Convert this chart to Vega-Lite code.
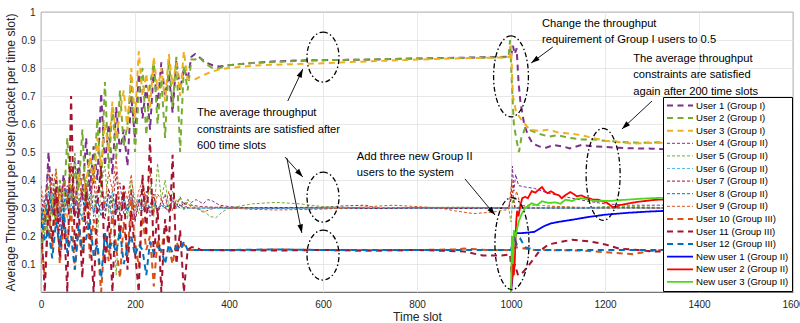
{
"$schema":"https://vega.github.io/schema/vega-lite/v6.json",
"autosize":{"type":"none"},
"padding":{"left":41,"top":12,"right":7,"bottom":31},
"width":752,"height":280,
"background":"white",
"config":{
 "view":{"stroke":"#262626","strokeWidth":0.8},
 "axis":{"labelFont":"Liberation Sans","labelFontSize":10,"labelColor":"#262626","titleFont":"Liberation Sans","titleFontSize":12.2,"titleFontWeight":"normal","titleColor":"#262626","gridColor":"#e2e2e2","gridWidth":0.8,"domain":false,"ticks":false,"labelOverlap":false},
 "legend":{"symbolType":"stroke","symbolSize":676,"labelFont":"Liberation Sans","labelFontSize":9.6,"labelColor":"#000","fillColor":"#ffffff","strokeColor":"#000","padding":3,"rowPadding":1.6,"clipHeight":11,"labelOffset":2,"symbolOffset":0,"labelLimit":250}
},
"datasets":{
 "names":[{"k":1,"name":"User 1 (Group I)"},{"k":2,"name":"User 2 (Group I)"},{"k":3,"name":"User 3 (Group I)"},{"k":4,"name":"User 4 (Group II)"},{"k":5,"name":"User 5 (Group II)"},{"k":6,"name":"User 6 (Group II)"},{"k":7,"name":"User 7 (Group II)"},{"k":8,"name":"User 8 (Group II)"},{"k":9,"name":"User 9 (Group II)"},{"k":10,"name":"User 10 (Group III)"},{"k":11,"name":"User 11 (Group III)"},{"k":12,"name":"User 12 (Group III)"},{"k":13,"name":"New user 1 (Group II)"},{"k":14,"name":"New user 2 (Group II)"},{"k":15,"name":"New user 3 (Group II)"}]
},
"data":{"values":[
{"k":1,"t":0,"v":0.30},{"k":1,"t":8,"v":0.22},{"k":1,"t":16,"v":0.50},{"k":1,"t":24,"v":0.28},{"k":1,"t":32,"v":0.35},{"k":1,"t":40,"v":0.25},{"k":1,"t":48,"v":0.42},{"k":1,"t":56,"v":0.30},{"k":1,"t":64,"v":0.38},{"k":1,"t":72,"v":0.27},{"k":1,"t":80,"v":0.47},{"k":1,"t":88,"v":0.33},{"k":1,"t":96,"v":0.55},{"k":1,"t":104,"v":0.36},{"k":1,"t":112,"v":0.52},{"k":1,"t":120,"v":0.40},{"k":1,"t":128,"v":0.71},{"k":1,"t":136,"v":0.45},{"k":1,"t":144,"v":0.60},{"k":1,"t":152,"v":0.42},{"k":1,"t":160,"v":0.66},{"k":1,"t":168,"v":0.50},{"k":1,"t":176,"v":0.58},{"k":1,"t":184,"v":0.45},{"k":1,"t":192,"v":0.70},{"k":1,"t":200,"v":0.55},{"k":1,"t":208,"v":0.78},{"k":1,"t":216,"v":0.62},{"k":1,"t":224,"v":0.74},{"k":1,"t":232,"v":0.58},{"k":1,"t":240,"v":0.80},{"k":1,"t":248,"v":0.66},{"k":1,"t":256,"v":0.82},{"k":1,"t":264,"v":0.70},{"k":1,"t":272,"v":0.78},{"k":1,"t":280,"v":0.64},{"k":1,"t":288,"v":0.83},{"k":1,"t":296,"v":0.72},{"k":1,"t":304,"v":0.80},{"k":1,"t":312,"v":0.76},{"k":1,"t":320,"v":0.84},
{"k":1,"t":328,"v":0.85},{"k":1,"t":336,"v":0.84},{"k":1,"t":350,"v":0.82},{"k":1,"t":365,"v":0.81},{"k":1,"t":380,"v":0.805},{"k":1,"t":400,"v":0.81},{"k":1,"t":450,"v":0.818},{"k":1,"t":500,"v":0.824},{"k":1,"t":550,"v":0.827},{"k":1,"t":600,"v":0.828},{"k":1,"t":700,"v":0.83},{"k":1,"t":800,"v":0.834},{"k":1,"t":900,"v":0.837},{"k":1,"t":990,"v":0.84},{"k":1,"t":1000,"v":0.84},{"k":1,"t":1004,"v":0.88},{"k":1,"t":1008,"v":0.85},{"k":1,"t":1012,"v":0.87},{"k":1,"t":1016,"v":0.75},{"k":1,"t":1020,"v":0.68},{"k":1,"t":1028,"v":0.60},{"k":1,"t":1036,"v":0.56},{"k":1,"t":1046,"v":0.53},{"k":1,"t":1060,"v":0.52},{"k":1,"t":1075,"v":0.515},{"k":1,"t":1090,"v":0.525},{"k":1,"t":1110,"v":0.52},{"k":1,"t":1125,"v":0.513},{"k":1,"t":1150,"v":0.525},{"k":1,"t":1175,"v":0.52},{"k":1,"t":1200,"v":0.518},{"k":1,"t":1230,"v":0.515},{"k":1,"t":1260,"v":0.513},{"k":1,"t":1300,"v":0.512},{"k":1,"t":1330,"v":0.51},
{"k":2,"t":0,"v":0.10},{"k":2,"t":8,"v":0.28},{"k":2,"t":16,"v":0.20},{"k":2,"t":24,"v":0.35},{"k":2,"t":32,"v":0.24},{"k":2,"t":40,"v":0.40},{"k":2,"t":48,"v":0.30},{"k":2,"t":56,"v":0.55},{"k":2,"t":64,"v":0.32},{"k":2,"t":72,"v":0.45},{"k":2,"t":80,"v":0.36},{"k":2,"t":88,"v":0.58},{"k":2,"t":96,"v":0.30},{"k":2,"t":104,"v":0.50},{"k":2,"t":112,"v":0.40},{"k":2,"t":120,"v":0.62},{"k":2,"t":128,"v":0.38},{"k":2,"t":136,"v":0.75},{"k":2,"t":144,"v":0.44},{"k":2,"t":152,"v":0.66},{"k":2,"t":160,"v":0.48},{"k":2,"t":168,"v":0.72},{"k":2,"t":176,"v":0.52},{"k":2,"t":184,"v":0.60},{"k":2,"t":192,"v":0.76},{"k":2,"t":200,"v":0.50},{"k":2,"t":208,"v":0.70},{"k":2,"t":216,"v":0.80},{"k":2,"t":224,"v":0.56},{"k":2,"t":232,"v":0.74},{"k":2,"t":240,"v":0.82},{"k":2,"t":248,"v":0.60},{"k":2,"t":256,"v":0.76},{"k":2,"t":264,"v":0.55},{"k":2,"t":272,"v":0.83},{"k":2,"t":280,"v":0.66},{"k":2,"t":288,"v":0.84},{"k":2,"t":296,"v":0.50},{"k":2,"t":304,"v":0.81},{"k":2,"t":312,"v":0.72},{"k":2,"t":320,"v":0.83},
{"k":2,"t":328,"v":0.83},{"k":2,"t":336,"v":0.84},{"k":2,"t":350,"v":0.815},{"k":2,"t":365,"v":0.80},{"k":2,"t":380,"v":0.80},{"k":2,"t":400,"v":0.81},{"k":2,"t":450,"v":0.818},{"k":2,"t":500,"v":0.822},{"k":2,"t":600,"v":0.828},{"k":2,"t":700,"v":0.83},{"k":2,"t":800,"v":0.834},{"k":2,"t":900,"v":0.836},{"k":2,"t":985,"v":0.838},{"k":2,"t":995,"v":0.84},{"k":2,"t":998,"v":0.90},{"k":2,"t":1002,"v":0.74},{"k":2,"t":1006,"v":0.60},{"k":2,"t":1012,"v":0.54},{"k":2,"t":1017,"v":0.50},{"k":2,"t":1022,"v":0.55},{"k":2,"t":1030,"v":0.585},{"k":2,"t":1045,"v":0.575},{"k":2,"t":1060,"v":0.565},{"k":2,"t":1080,"v":0.555},{"k":2,"t":1100,"v":0.56},{"k":2,"t":1125,"v":0.55},{"k":2,"t":1150,"v":0.545},{"k":2,"t":1175,"v":0.545},{"k":2,"t":1200,"v":0.54},{"k":2,"t":1240,"v":0.535},{"k":2,"t":1280,"v":0.533},{"k":2,"t":1330,"v":0.535},
{"k":3,"t":0,"v":0.20},{"k":3,"t":8,"v":0.30},{"k":3,"t":16,"v":0.25},{"k":3,"t":24,"v":0.33},{"k":3,"t":32,"v":0.28},{"k":3,"t":40,"v":0.36},{"k":3,"t":48,"v":0.30},{"k":3,"t":56,"v":0.27},{"k":3,"t":64,"v":0.38},{"k":3,"t":72,"v":0.32},{"k":3,"t":80,"v":0.42},{"k":3,"t":88,"v":0.35},{"k":3,"t":96,"v":0.40},{"k":3,"t":104,"v":0.48},{"k":3,"t":112,"v":0.38},{"k":3,"t":120,"v":0.55},{"k":3,"t":128,"v":0.45},{"k":3,"t":136,"v":0.60},{"k":3,"t":144,"v":0.50},{"k":3,"t":152,"v":0.68},{"k":3,"t":160,"v":0.55},{"k":3,"t":168,"v":0.64},{"k":3,"t":176,"v":0.72},{"k":3,"t":184,"v":0.58},{"k":3,"t":192,"v":0.80},{"k":3,"t":200,"v":0.62},{"k":3,"t":208,"v":0.86},{"k":3,"t":216,"v":0.70},{"k":3,"t":224,"v":0.78},{"k":3,"t":232,"v":0.66},{"k":3,"t":240,"v":0.84},{"k":3,"t":248,"v":0.72},{"k":3,"t":256,"v":0.80},{"k":3,"t":264,"v":0.68},{"k":3,"t":272,"v":0.85},{"k":3,"t":280,"v":0.74},{"k":3,"t":288,"v":0.82},{"k":3,"t":296,"v":0.70},{"k":3,"t":304,"v":0.86},{"k":3,"t":312,"v":0.76},{"k":3,"t":320,"v":0.76},
{"k":3,"t":328,"v":0.76},{"k":3,"t":340,"v":0.77},{"k":3,"t":360,"v":0.785},{"k":3,"t":380,"v":0.795},{"k":3,"t":400,"v":0.80},{"k":3,"t":450,"v":0.808},{"k":3,"t":500,"v":0.812},{"k":3,"t":600,"v":0.817},{"k":3,"t":700,"v":0.824},{"k":3,"t":800,"v":0.83},{"k":3,"t":900,"v":0.835},{"k":3,"t":990,"v":0.838},{"k":3,"t":997,"v":0.84},{"k":3,"t":1000,"v":0.88},{"k":3,"t":1004,"v":0.70},{"k":3,"t":1010,"v":0.65},{"k":3,"t":1016,"v":0.63},{"k":3,"t":1024,"v":0.61},{"k":3,"t":1040,"v":0.58},{"k":3,"t":1060,"v":0.575},{"k":3,"t":1080,"v":0.58},{"k":3,"t":1100,"v":0.57},{"k":3,"t":1130,"v":0.565},{"k":3,"t":1150,"v":0.56},{"k":3,"t":1175,"v":0.55},{"k":3,"t":1200,"v":0.54},{"k":3,"t":1230,"v":0.535},{"k":3,"t":1260,"v":0.53},{"k":3,"t":1290,"v":0.532},{"k":3,"t":1330,"v":0.533},
{"k":4,"t":0,"v":0.25},{"k":4,"t":8,"v":0.33},{"k":4,"t":16,"v":0.45},{"k":4,"t":24,"v":0.28},{"k":4,"t":32,"v":0.36},{"k":4,"t":40,"v":0.22},{"k":4,"t":48,"v":0.40},{"k":4,"t":56,"v":0.30},{"k":4,"t":64,"v":0.34},{"k":4,"t":72,"v":0.48},{"k":4,"t":80,"v":0.26},{"k":4,"t":88,"v":0.38},{"k":4,"t":96,"v":0.31},{"k":4,"t":104,"v":0.44},{"k":4,"t":112,"v":0.27},{"k":4,"t":120,"v":0.36},{"k":4,"t":128,"v":0.42},{"k":4,"t":136,"v":0.29},{"k":4,"t":144,"v":0.35},{"k":4,"t":152,"v":0.24},{"k":4,"t":160,"v":0.33},{"k":4,"t":168,"v":0.39},{"k":4,"t":176,"v":0.28},{"k":4,"t":184,"v":0.31},{"k":4,"t":192,"v":0.37},{"k":4,"t":200,"v":0.26},{"k":4,"t":208,"v":0.33},{"k":4,"t":216,"v":0.30},{"k":4,"t":224,"v":0.36},{"k":4,"t":232,"v":0.27},{"k":4,"t":240,"v":0.34},{"k":4,"t":248,"v":0.29},{"k":4,"t":256,"v":0.31},{"k":4,"t":264,"v":0.35},{"k":4,"t":272,"v":0.28},{"k":4,"t":280,"v":0.33},{"k":4,"t":288,"v":0.30},{"k":4,"t":296,"v":0.34},{"k":4,"t":304,"v":0.31},{"k":4,"t":312,"v":0.33},{"k":4,"t":320,"v":0.32},
{"k":4,"t":330,"v":0.33},{"k":4,"t":345,"v":0.315},{"k":4,"t":355,"v":0.33},{"k":4,"t":365,"v":0.325},{"k":4,"t":380,"v":0.31},{"k":4,"t":400,"v":0.305},{"k":4,"t":450,"v":0.30},{"k":4,"t":500,"v":0.298},{"k":4,"t":550,"v":0.302},{"k":4,"t":600,"v":0.303},{"k":4,"t":650,"v":0.308},{"k":4,"t":690,"v":0.31},{"k":4,"t":720,"v":0.298},{"k":4,"t":800,"v":0.30},{"k":4,"t":900,"v":0.302},{"k":4,"t":995,"v":0.30},{"k":4,"t":1000,"v":0.33},{"k":4,"t":1003,"v":0.45},{"k":4,"t":1006,"v":0.36},{"k":4,"t":1010,"v":0.42},{"k":4,"t":1016,"v":0.38},{"k":4,"t":1030,"v":0.375},{"k":4,"t":1050,"v":0.37},{"k":4,"t":1075,"v":0.355},{"k":4,"t":1100,"v":0.345},{"k":4,"t":1130,"v":0.335},{"k":4,"t":1160,"v":0.325},{"k":4,"t":1200,"v":0.315},{"k":4,"t":1250,"v":0.31},{"k":4,"t":1300,"v":0.31},{"k":4,"t":1330,"v":0.31},
{"k":5,"t":0,"v":0.32},{"k":5,"t":8,"v":0.20},{"k":5,"t":16,"v":0.38},{"k":5,"t":24,"v":0.27},{"k":5,"t":32,"v":0.44},{"k":5,"t":40,"v":0.30},{"k":5,"t":48,"v":0.22},{"k":5,"t":56,"v":0.36},{"k":5,"t":64,"v":0.28},{"k":5,"t":72,"v":0.50},{"k":5,"t":80,"v":0.32},{"k":5,"t":88,"v":0.25},{"k":5,"t":96,"v":0.40},{"k":5,"t":104,"v":0.30},{"k":5,"t":112,"v":0.35},{"k":5,"t":120,"v":0.20},{"k":5,"t":128,"v":0.38},{"k":5,"t":136,"v":0.45},{"k":5,"t":144,"v":0.28},{"k":5,"t":152,"v":0.34},{"k":5,"t":160,"v":0.06},{"k":5,"t":168,"v":0.30},{"k":5,"t":176,"v":0.36},{"k":5,"t":184,"v":0.26},{"k":5,"t":192,"v":0.40},{"k":5,"t":200,"v":0.33},{"k":5,"t":208,"v":0.28},{"k":5,"t":216,"v":0.35},{"k":5,"t":224,"v":0.30},{"k":5,"t":232,"v":0.38},{"k":5,"t":240,"v":0.27},{"k":5,"t":248,"v":0.46},{"k":5,"t":256,"v":0.33},{"k":5,"t":264,"v":0.40},{"k":5,"t":272,"v":0.30},{"k":5,"t":280,"v":0.36},{"k":5,"t":288,"v":0.31},{"k":5,"t":296,"v":0.34},{"k":5,"t":304,"v":0.29},{"k":5,"t":312,"v":0.33},{"k":5,"t":320,"v":0.31},
{"k":5,"t":330,"v":0.30},{"k":5,"t":345,"v":0.29},{"k":5,"t":360,"v":0.27},{"k":5,"t":372,"v":0.265},{"k":5,"t":385,"v":0.285},{"k":5,"t":400,"v":0.30},{"k":5,"t":450,"v":0.315},{"k":5,"t":500,"v":0.32},{"k":5,"t":550,"v":0.315},{"k":5,"t":600,"v":0.305},{"k":5,"t":700,"v":0.30},{"k":5,"t":800,"v":0.302},{"k":5,"t":900,"v":0.303},{"k":5,"t":995,"v":0.30},{"k":5,"t":1000,"v":0.25},{"k":5,"t":1004,"v":0.34},{"k":5,"t":1010,"v":0.30},{"k":5,"t":1030,"v":0.31},{"k":5,"t":1060,"v":0.31},{"k":5,"t":1100,"v":0.305},{"k":5,"t":1150,"v":0.30},{"k":5,"t":1200,"v":0.305},{"k":5,"t":1260,"v":0.305},{"k":5,"t":1330,"v":0.31},
{"k":6,"t":0,"v":0.28},{"k":6,"t":8,"v":0.32},{"k":6,"t":16,"v":0.25},{"k":6,"t":24,"v":0.35},{"k":6,"t":32,"v":0.30},{"k":6,"t":40,"v":0.27},{"k":6,"t":48,"v":0.34},{"k":6,"t":56,"v":0.29},{"k":6,"t":64,"v":0.36},{"k":6,"t":72,"v":0.31},{"k":6,"t":80,"v":0.26},{"k":6,"t":88,"v":0.33},{"k":6,"t":96,"v":0.30},{"k":6,"t":104,"v":0.35},{"k":6,"t":112,"v":0.28},{"k":6,"t":120,"v":0.32},{"k":6,"t":128,"v":0.29},{"k":6,"t":136,"v":0.34},{"k":6,"t":144,"v":0.31},{"k":6,"t":152,"v":0.27},{"k":6,"t":160,"v":0.33},{"k":6,"t":168,"v":0.30},{"k":6,"t":176,"v":0.32},{"k":6,"t":184,"v":0.28},{"k":6,"t":192,"v":0.34},{"k":6,"t":200,"v":0.30},{"k":6,"t":208,"v":0.31},{"k":6,"t":216,"v":0.29},{"k":6,"t":224,"v":0.33},{"k":6,"t":232,"v":0.30},{"k":6,"t":240,"v":0.32},{"k":6,"t":248,"v":0.29},{"k":6,"t":256,"v":0.31},{"k":6,"t":264,"v":0.30},{"k":6,"t":272,"v":0.32},{"k":6,"t":280,"v":0.30},{"k":6,"t":288,"v":0.31},{"k":6,"t":296,"v":0.30},{"k":6,"t":304,"v":0.31},{"k":6,"t":312,"v":0.30},{"k":6,"t":320,"v":0.30},
{"k":6,"t":360,"v":0.30},{"k":6,"t":450,"v":0.30},{"k":6,"t":600,"v":0.30},{"k":6,"t":800,"v":0.30},{"k":6,"t":1000,"v":0.30},{"k":6,"t":1150,"v":0.30},{"k":6,"t":1330,"v":0.30},
{"k":7,"t":0,"v":0.35},{"k":7,"t":8,"v":0.26},{"k":7,"t":16,"v":0.30},{"k":7,"t":24,"v":0.42},{"k":7,"t":32,"v":0.24},{"k":7,"t":40,"v":0.38},{"k":7,"t":48,"v":0.29},{"k":7,"t":56,"v":0.33},{"k":7,"t":64,"v":0.45},{"k":7,"t":72,"v":0.27},{"k":7,"t":80,"v":0.31},{"k":7,"t":88,"v":0.36},{"k":7,"t":96,"v":0.22},{"k":7,"t":104,"v":0.34},{"k":7,"t":112,"v":0.40},{"k":7,"t":120,"v":0.28},{"k":7,"t":128,"v":0.32},{"k":7,"t":136,"v":0.26},{"k":7,"t":144,"v":0.37},{"k":7,"t":152,"v":0.30},{"k":7,"t":160,"v":0.43},{"k":7,"t":168,"v":0.27},{"k":7,"t":176,"v":0.33},{"k":7,"t":184,"v":0.29},{"k":7,"t":192,"v":0.36},{"k":7,"t":200,"v":0.25},{"k":7,"t":208,"v":0.32},{"k":7,"t":216,"v":0.38},{"k":7,"t":224,"v":0.28},{"k":7,"t":232,"v":0.31},{"k":7,"t":240,"v":0.35},{"k":7,"t":248,"v":0.27},{"k":7,"t":256,"v":0.33},{"k":7,"t":264,"v":0.30},{"k":7,"t":272,"v":0.29},{"k":7,"t":280,"v":0.34},{"k":7,"t":288,"v":0.31},{"k":7,"t":296,"v":0.30},{"k":7,"t":304,"v":0.32},{"k":7,"t":312,"v":0.30},{"k":7,"t":320,"v":0.31},
{"k":7,"t":340,"v":0.305},{"k":7,"t":400,"v":0.30},{"k":7,"t":500,"v":0.302},{"k":7,"t":600,"v":0.30},{"k":7,"t":700,"v":0.298},{"k":7,"t":800,"v":0.30},{"k":7,"t":900,"v":0.298},{"k":7,"t":995,"v":0.30},{"k":7,"t":1003,"v":0.36},{"k":7,"t":1008,"v":0.30},{"k":7,"t":1050,"v":0.30},{"k":7,"t":1150,"v":0.30},{"k":7,"t":1250,"v":0.302},{"k":7,"t":1330,"v":0.30},
{"k":8,"t":0,"v":0.30},{"k":8,"t":8,"v":0.24},{"k":8,"t":16,"v":0.36},{"k":8,"t":24,"v":0.29},{"k":8,"t":32,"v":0.33},{"k":8,"t":40,"v":0.27},{"k":8,"t":48,"v":0.31},{"k":8,"t":56,"v":0.38},{"k":8,"t":64,"v":0.28},{"k":8,"t":72,"v":0.34},{"k":8,"t":80,"v":0.30},{"k":8,"t":88,"v":0.26},{"k":8,"t":96,"v":0.35},{"k":8,"t":104,"v":0.31},{"k":8,"t":112,"v":0.29},{"k":8,"t":120,"v":0.33},{"k":8,"t":128,"v":0.27},{"k":8,"t":136,"v":0.32},{"k":8,"t":144,"v":0.30},{"k":8,"t":152,"v":0.36},{"k":8,"t":160,"v":0.28},{"k":8,"t":168,"v":0.31},{"k":8,"t":176,"v":0.34},{"k":8,"t":184,"v":0.29},{"k":8,"t":192,"v":0.32},{"k":8,"t":200,"v":0.30},{"k":8,"t":208,"v":0.33},{"k":8,"t":216,"v":0.29},{"k":8,"t":224,"v":0.31},{"k":8,"t":232,"v":0.30},{"k":8,"t":240,"v":0.32},{"k":8,"t":248,"v":0.30},{"k":8,"t":256,"v":0.31},{"k":8,"t":264,"v":0.30},{"k":8,"t":272,"v":0.31},{"k":8,"t":280,"v":0.30},{"k":8,"t":288,"v":0.30},{"k":8,"t":296,"v":0.31},{"k":8,"t":304,"v":0.30},{"k":8,"t":312,"v":0.30},{"k":8,"t":320,"v":0.30},
{"k":8,"t":400,"v":0.30},{"k":8,"t":600,"v":0.30},{"k":8,"t":800,"v":0.30},{"k":8,"t":1000,"v":0.30},{"k":8,"t":1200,"v":0.30},{"k":8,"t":1330,"v":0.30},
{"k":9,"t":0,"v":0.38},{"k":9,"t":8,"v":0.30},{"k":9,"t":16,"v":0.42},{"k":9,"t":24,"v":0.35},{"k":9,"t":32,"v":0.44},{"k":9,"t":40,"v":0.28},{"k":9,"t":48,"v":0.40},{"k":9,"t":56,"v":0.33},{"k":9,"t":64,"v":0.46},{"k":9,"t":72,"v":0.36},{"k":9,"t":80,"v":0.30},{"k":9,"t":88,"v":0.42},{"k":9,"t":96,"v":0.38},{"k":9,"t":104,"v":0.27},{"k":9,"t":112,"v":0.45},{"k":9,"t":120,"v":0.34},{"k":9,"t":128,"v":0.40},{"k":9,"t":136,"v":0.31},{"k":9,"t":144,"v":0.43},{"k":9,"t":152,"v":0.36},{"k":9,"t":160,"v":0.48},{"k":9,"t":168,"v":0.30},{"k":9,"t":176,"v":0.38},{"k":9,"t":184,"v":0.33},{"k":9,"t":192,"v":0.42},{"k":9,"t":200,"v":0.29},{"k":9,"t":208,"v":0.36},{"k":9,"t":216,"v":0.40},{"k":9,"t":224,"v":0.31},{"k":9,"t":232,"v":0.44},{"k":9,"t":240,"v":0.28},{"k":9,"t":248,"v":0.35},{"k":9,"t":256,"v":0.33},{"k":9,"t":264,"v":0.30},{"k":9,"t":272,"v":0.36},{"k":9,"t":280,"v":0.29},{"k":9,"t":288,"v":0.33},{"k":9,"t":296,"v":0.31},{"k":9,"t":304,"v":0.30},{"k":9,"t":312,"v":0.32},{"k":9,"t":320,"v":0.30},
{"k":9,"t":330,"v":0.30},{"k":9,"t":345,"v":0.285},{"k":9,"t":360,"v":0.295},{"k":9,"t":380,"v":0.305},{"k":9,"t":400,"v":0.30},{"k":9,"t":450,"v":0.295},{"k":9,"t":500,"v":0.293},{"k":9,"t":600,"v":0.296},{"k":9,"t":650,"v":0.30},{"k":9,"t":700,"v":0.305},{"k":9,"t":750,"v":0.31},{"k":9,"t":800,"v":0.305},{"k":9,"t":850,"v":0.30},{"k":9,"t":880,"v":0.29},{"k":9,"t":920,"v":0.28},{"k":9,"t":960,"v":0.285},{"k":9,"t":995,"v":0.295},{"k":9,"t":1002,"v":0.40},{"k":9,"t":1006,"v":0.32},{"k":9,"t":1012,"v":0.36},{"k":9,"t":1020,"v":0.31},{"k":9,"t":1050,"v":0.30},{"k":9,"t":1100,"v":0.305},{"k":9,"t":1200,"v":0.30},{"k":9,"t":1330,"v":0.30},
{"k":10,"t":0,"v":0.20},{"k":10,"t":8,"v":0.05},{"k":10,"t":16,"v":0.28},{"k":10,"t":24,"v":0.15},{"k":10,"t":32,"v":0.35},{"k":10,"t":40,"v":0.10},{"k":10,"t":48,"v":0.24},{"k":10,"t":56,"v":0.18},{"k":10,"t":64,"v":0.30},{"k":10,"t":72,"v":0.08},{"k":10,"t":80,"v":0.22},{"k":10,"t":88,"v":0.14},{"k":10,"t":96,"v":0.38},{"k":10,"t":104,"v":0.12},{"k":10,"t":112,"v":0.26},{"k":10,"t":120,"v":0.17},{"k":10,"t":128,"v":0.00},{"k":10,"t":136,"v":0.21},{"k":10,"t":144,"v":0.11},{"k":10,"t":152,"v":0.29},{"k":10,"t":160,"v":0.16},{"k":10,"t":168,"v":0.05},{"k":10,"t":176,"v":0.25},{"k":10,"t":184,"v":0.13},{"k":10,"t":192,"v":0.33},{"k":10,"t":200,"v":0.18},{"k":10,"t":208,"v":0.09},{"k":10,"t":216,"v":0.27},{"k":10,"t":224,"v":0.15},{"k":10,"t":232,"v":0.20},{"k":10,"t":240,"v":0.02},{"k":10,"t":248,"v":0.19},{"k":10,"t":256,"v":0.14},{"k":10,"t":264,"v":0.24},{"k":10,"t":272,"v":0.16},{"k":10,"t":280,"v":0.10},{"k":10,"t":288,"v":0.18},{"k":10,"t":296,"v":0.15},{"k":10,"t":304,"v":0.17},{"k":10,"t":312,"v":0.15},{"k":10,"t":320,"v":0.15},
{"k":10,"t":340,"v":0.15},{"k":10,"t":400,"v":0.148},{"k":10,"t":500,"v":0.152},{"k":10,"t":600,"v":0.15},{"k":10,"t":700,"v":0.148},{"k":10,"t":800,"v":0.15},{"k":10,"t":880,"v":0.152},{"k":10,"t":900,"v":0.155},{"k":10,"t":950,"v":0.15},{"k":10,"t":1000,"v":0.15},{"k":10,"t":1010,"v":0.16},{"k":10,"t":1050,"v":0.15},{"k":10,"t":1150,"v":0.148},{"k":10,"t":1220,"v":0.14},{"k":10,"t":1260,"v":0.135},{"k":10,"t":1290,"v":0.145},{"k":10,"t":1330,"v":0.152},
{"k":11,"t":0,"v":0.25},{"k":11,"t":8,"v":0.00},{"k":11,"t":16,"v":0.33},{"k":11,"t":24,"v":0.18},{"k":11,"t":32,"v":0.40},{"k":11,"t":40,"v":0.12},{"k":11,"t":48,"v":0.28},{"k":11,"t":56,"v":0.00},{"k":11,"t":64,"v":0.70},{"k":11,"t":72,"v":0.15},{"k":11,"t":80,"v":0.30},{"k":11,"t":88,"v":0.05},{"k":11,"t":96,"v":0.36},{"k":11,"t":104,"v":0.22},{"k":11,"t":112,"v":0.00},{"k":11,"t":120,"v":0.31},{"k":11,"t":128,"v":0.45},{"k":11,"t":136,"v":0.10},{"k":11,"t":144,"v":0.27},{"k":11,"t":152,"v":0.00},{"k":11,"t":160,"v":0.35},{"k":11,"t":168,"v":0.19},{"k":11,"t":176,"v":0.38},{"k":11,"t":184,"v":0.08},{"k":11,"t":192,"v":0.29},{"k":11,"t":200,"v":0.14},{"k":11,"t":208,"v":0.00},{"k":11,"t":216,"v":0.42},{"k":11,"t":224,"v":0.20},{"k":11,"t":232,"v":0.55},{"k":11,"t":240,"v":0.12},{"k":11,"t":248,"v":0.30},{"k":11,"t":256,"v":0.00},{"k":11,"t":264,"v":0.26},{"k":11,"t":272,"v":0.17},{"k":11,"t":280,"v":0.49},{"k":11,"t":288,"v":0.10},{"k":11,"t":296,"v":0.22},{"k":11,"t":304,"v":0.00},{"k":11,"t":312,"v":0.15},{"k":11,"t":320,"v":0.16},
{"k":11,"t":330,"v":0.16},{"k":11,"t":340,"v":0.15},{"k":11,"t":400,"v":0.15},{"k":11,"t":500,"v":0.148},{"k":11,"t":600,"v":0.15},{"k":11,"t":700,"v":0.148},{"k":11,"t":800,"v":0.15},{"k":11,"t":900,"v":0.145},{"k":11,"t":940,"v":0.13},{"k":11,"t":980,"v":0.13},{"k":11,"t":998,"v":0.135},{"k":11,"t":1002,"v":0.05},{"k":11,"t":1008,"v":0.10},{"k":11,"t":1015,"v":0.06},{"k":11,"t":1025,"v":0.07},{"k":11,"t":1040,"v":0.10},{"k":11,"t":1060,"v":0.145},{"k":11,"t":1080,"v":0.17},{"k":11,"t":1110,"v":0.18},{"k":11,"t":1130,"v":0.187},{"k":11,"t":1170,"v":0.18},{"k":11,"t":1200,"v":0.17},{"k":11,"t":1230,"v":0.155},{"k":11,"t":1270,"v":0.15},{"k":11,"t":1300,"v":0.145},{"k":11,"t":1330,"v":0.145},
{"k":12,"t":0,"v":0.28},{"k":12,"t":8,"v":0.18},{"k":12,"t":16,"v":0.22},{"k":12,"t":24,"v":0.12},{"k":12,"t":32,"v":0.25},{"k":12,"t":40,"v":0.16},{"k":12,"t":48,"v":0.30},{"k":12,"t":56,"v":0.14},{"k":12,"t":64,"v":0.20},{"k":12,"t":72,"v":0.08},{"k":12,"t":80,"v":0.24},{"k":12,"t":88,"v":0.15},{"k":12,"t":96,"v":0.19},{"k":12,"t":104,"v":0.26},{"k":12,"t":112,"v":0.13},{"k":12,"t":120,"v":0.17},{"k":12,"t":128,"v":0.05},{"k":12,"t":136,"v":0.21},{"k":12,"t":144,"v":0.15},{"k":12,"t":152,"v":0.18},{"k":12,"t":160,"v":0.14},{"k":12,"t":168,"v":0.22},{"k":12,"t":176,"v":0.10},{"k":12,"t":184,"v":0.16},{"k":12,"t":192,"v":0.20},{"k":12,"t":200,"v":0.13},{"k":12,"t":208,"v":0.17},{"k":12,"t":216,"v":0.15},{"k":12,"t":224,"v":0.06},{"k":12,"t":232,"v":0.18},{"k":12,"t":240,"v":0.14},{"k":12,"t":248,"v":0.16},{"k":12,"t":256,"v":0.15},{"k":12,"t":264,"v":0.10},{"k":12,"t":272,"v":0.17},{"k":12,"t":280,"v":0.14},{"k":12,"t":288,"v":0.16},{"k":12,"t":296,"v":0.15},{"k":12,"t":304,"v":0.18},{"k":12,"t":312,"v":0.15},{"k":12,"t":320,"v":0.15},
{"k":12,"t":340,"v":0.15},{"k":12,"t":400,"v":0.15},{"k":12,"t":500,"v":0.152},{"k":12,"t":600,"v":0.15},{"k":12,"t":700,"v":0.15},{"k":12,"t":800,"v":0.15},{"k":12,"t":900,"v":0.15},{"k":12,"t":1000,"v":0.15},{"k":12,"t":1006,"v":0.20},{"k":12,"t":1012,"v":0.17},{"k":12,"t":1020,"v":0.19},{"k":12,"t":1030,"v":0.16},{"k":12,"t":1050,"v":0.15},{"k":12,"t":1150,"v":0.15},{"k":12,"t":1250,"v":0.15},{"k":12,"t":1330,"v":0.15},
{"k":13,"t":1000,"v":0.0},{"k":13,"t":1003,"v":0.05},{"k":13,"t":1005,"v":0.18},{"k":13,"t":1008,"v":0.20},{"k":13,"t":1012,"v":0.21},{"k":13,"t":1020,"v":0.21},{"k":13,"t":1035,"v":0.212},{"k":13,"t":1050,"v":0.215},{"k":13,"t":1060,"v":0.225},{"k":13,"t":1070,"v":0.235},{"k":13,"t":1085,"v":0.245},{"k":13,"t":1100,"v":0.25},{"k":13,"t":1130,"v":0.258},{"k":13,"t":1165,"v":0.268},{"k":13,"t":1200,"v":0.276},{"k":13,"t":1250,"v":0.283},{"k":13,"t":1290,"v":0.287},{"k":13,"t":1330,"v":0.29},
{"k":14,"t":1000,"v":0.0},{"k":14,"t":1002,"v":0.05},{"k":14,"t":1004,"v":0.12},{"k":14,"t":1006,"v":0.06},{"k":14,"t":1008,"v":0.11},{"k":14,"t":1011,"v":0.25},{"k":14,"t":1013,"v":0.29},{"k":14,"t":1016,"v":0.27},{"k":14,"t":1020,"v":0.31},{"k":14,"t":1024,"v":0.335},{"k":14,"t":1030,"v":0.34},{"k":14,"t":1036,"v":0.335},{"k":14,"t":1044,"v":0.36},{"k":14,"t":1052,"v":0.355},{"k":14,"t":1060,"v":0.367},{"k":14,"t":1066,"v":0.375},{"k":14,"t":1072,"v":0.36},{"k":14,"t":1078,"v":0.353},{"k":14,"t":1085,"v":0.36},{"k":14,"t":1094,"v":0.35},{"k":14,"t":1102,"v":0.345},{"k":14,"t":1108,"v":0.335},{"k":14,"t":1115,"v":0.345},{"k":14,"t":1126,"v":0.357},{"k":14,"t":1133,"v":0.35},{"k":14,"t":1140,"v":0.342},{"k":14,"t":1150,"v":0.345},{"k":14,"t":1158,"v":0.338},{"k":14,"t":1165,"v":0.335},{"k":14,"t":1175,"v":0.33},{"k":14,"t":1185,"v":0.33},{"k":14,"t":1195,"v":0.324},{"k":14,"t":1205,"v":0.318},{"k":14,"t":1215,"v":0.305},{"k":14,"t":1222,"v":0.302},{"k":14,"t":1230,"v":0.31},{"k":14,"t":1240,"v":0.313},{"k":14,"t":1255,"v":0.318},{"k":14,"t":1270,"v":0.322},{"k":14,"t":1285,"v":0.325},{"k":14,"t":1300,"v":0.328},{"k":14,"t":1315,"v":0.33},{"k":14,"t":1330,"v":0.33},
{"k":15,"t":1000,"v":0.0},{"k":15,"t":1002,"v":0.20},{"k":15,"t":1004,"v":0.10},{"k":15,"t":1006,"v":0.22},{"k":15,"t":1010,"v":0.20},{"k":15,"t":1016,"v":0.25},{"k":15,"t":1023,"v":0.28},{"k":15,"t":1030,"v":0.30},{"k":15,"t":1044,"v":0.317},{"k":15,"t":1055,"v":0.31},{"k":15,"t":1066,"v":0.324},{"k":15,"t":1080,"v":0.318},{"k":15,"t":1094,"v":0.32},{"k":15,"t":1105,"v":0.315},{"k":15,"t":1116,"v":0.33},{"k":15,"t":1130,"v":0.325},{"k":15,"t":1140,"v":0.333},{"k":15,"t":1150,"v":0.335},{"k":15,"t":1165,"v":0.33},{"k":15,"t":1180,"v":0.324},{"k":15,"t":1195,"v":0.326},{"k":15,"t":1210,"v":0.325},{"k":15,"t":1230,"v":0.328},{"k":15,"t":1250,"v":0.33},{"k":15,"t":1275,"v":0.333},{"k":15,"t":1300,"v":0.335},{"k":15,"t":1330,"v":0.337}
]},
"transform":[{"lookup":"k","from":{"data":{"name":"names"},"key":"k","fields":["name"]}}],
"encoding":{
 "x":{"field":"t","type":"quantitative","scale":{"domain":[0,1600],"nice":false},"axis":{"title":"Time slot","values":[0,200,400,600,800,1000,1200,1400,1600],"format":"d","labelPadding":7,"titlePadding":1,"labelFlush":false,"labelOverlap":false}},
 "y":{"field":"v","type":"quantitative","scale":{"domain":[0,1],"nice":false},"axis":{"title":"Average Throughput per User (packet per time slot)","values":[0.1,0.2,0.3,0.4,0.5,0.6,0.7,0.8,0.9,1],"format":".1~f","labelPadding":6,"titlePadding":4,"labelOverlap":false,"labelFlush":false}}
},
"layer":[
 {
  "transform":[{"filter":"datum.k <= 12"}],
  "mark":{"type":"line","clip":true,"strokeCap":"butt"},
  "encoding":{
   "color":{"field":"name","type":"nominal","title":null,"scale":{"domain":["User 1 (Group I)","User 2 (Group I)","User 3 (Group I)","User 4 (Group II)","User 5 (Group II)","User 6 (Group II)","User 7 (Group II)","User 8 (Group II)","User 9 (Group II)","User 10 (Group III)","User 11 (Group III)","User 12 (Group III)","New user 1 (Group II)","New user 2 (Group II)","New user 3 (Group II)"],"range":["#7E2F8E","#77AC30","#EDB120","#7E2F8E","#77AC30","#4DBEEE","#A2142F","#0072BD","#D95319","#D95319","#A2142F","#0072BD","#0000FF","#FF0000","#4CD91A"]},"legend":{"orient":"none","legendX":622,"legendY":85}},
   "strokeDash":{"field":"name","type":"nominal","title":null,"scale":{"domain":["User 1 (Group I)","User 2 (Group I)","User 3 (Group I)","User 4 (Group II)","User 5 (Group II)","User 6 (Group II)","User 7 (Group II)","User 8 (Group II)","User 9 (Group II)","User 10 (Group III)","User 11 (Group III)","User 12 (Group III)","New user 1 (Group II)","New user 2 (Group II)","New user 3 (Group II)"],"range":[[6,4.5],[6,4.5],[6,4.5],[3,2],[3,2],[3,2],[3,2],[3,2],[3,2],[6,4.5],[6,4.5],[6,4.5],[1,0],[1,0],[1,0]]}},
   "strokeWidth":{"field":"name","type":"nominal","title":null,"scale":{"type":"ordinal","domain":["User 1 (Group I)","User 2 (Group I)","User 3 (Group I)","User 4 (Group II)","User 5 (Group II)","User 6 (Group II)","User 7 (Group II)","User 8 (Group II)","User 9 (Group II)","User 10 (Group III)","User 11 (Group III)","User 12 (Group III)","New user 1 (Group II)","New user 2 (Group II)","New user 3 (Group II)"],"range":[2,2,2,1,1,1,1,1,1,2,2,2,1.8,1.8,1.8]}}
  }
 },
 {
  "transform":[{"filter":"datum.k > 12"}],
  "mark":{"type":"line","clip":true,"strokeCap":"butt"},
  "encoding":{
   "color":{"field":"name","type":"nominal","title":null,"scale":{"domain":["User 1 (Group I)","User 2 (Group I)","User 3 (Group I)","User 4 (Group II)","User 5 (Group II)","User 6 (Group II)","User 7 (Group II)","User 8 (Group II)","User 9 (Group II)","User 10 (Group III)","User 11 (Group III)","User 12 (Group III)","New user 1 (Group II)","New user 2 (Group II)","New user 3 (Group II)"],"range":["#7E2F8E","#77AC30","#EDB120","#7E2F8E","#77AC30","#4DBEEE","#A2142F","#0072BD","#D95319","#D95319","#A2142F","#0072BD","#0000FF","#FF0000","#4CD91A"]}},
   "strokeDash":{"field":"name","type":"nominal","title":null,"scale":{"domain":["User 1 (Group I)","User 2 (Group I)","User 3 (Group I)","User 4 (Group II)","User 5 (Group II)","User 6 (Group II)","User 7 (Group II)","User 8 (Group II)","User 9 (Group II)","User 10 (Group III)","User 11 (Group III)","User 12 (Group III)","New user 1 (Group II)","New user 2 (Group II)","New user 3 (Group II)"],"range":[[6,4.5],[6,4.5],[6,4.5],[3,2],[3,2],[3,2],[3,2],[3,2],[3,2],[6,4.5],[6,4.5],[6,4.5],[1,0],[1,0],[1,0]]}},
   "strokeWidth":{"field":"name","type":"nominal","title":null,"scale":{"type":"ordinal","domain":["User 1 (Group I)","User 2 (Group I)","User 3 (Group I)","User 4 (Group II)","User 5 (Group II)","User 6 (Group II)","User 7 (Group II)","User 8 (Group II)","User 9 (Group II)","User 10 (Group III)","User 11 (Group III)","User 12 (Group III)","New user 1 (Group II)","New user 2 (Group II)","New user 3 (Group II)"],"range":[2,2,2,1,1,1,1,1,1,2,2,2,1.8,1.8,1.8]}}
  }
 },
 {
  "data":{"values":[{"t":600,"v":0.839},{"t":600,"v":0.339},{"t":600,"v":0.132}]},
  "mark":{"type":"point","shape":"M0,-1A0.64,1,0,1,1,0,1A0.64,1,0,1,1,0,-1Z","size":2500,"filled":false,"color":"#000","opacity":1,"strokeWidth":1.3,"strokeDash":[5,2.5,1.5,2.5]}
 },
 {
  "data":{"values":[{"t":1000,"v":0.77}]},
  "mark":{"type":"point","shape":"M0,-1A0.43,1,0,1,1,0,1A0.43,1,0,1,1,0,-1Z","size":6561,"filled":false,"color":"#000","opacity":1,"strokeWidth":1.3,"strokeDash":[5,2.5,1.5,2.5]}
 },
 {
  "data":{"values":[{"t":1002,"v":0.173},{"t":1196,"v":0.42}]},
  "mark":{"type":"point","shape":"M0,-1A0.37,1,0,1,1,0,1A0.37,1,0,1,1,0,-1Z","size":8464,"filled":false,"color":"#000","opacity":1,"strokeWidth":1.3,"strokeDash":[5,2.5,1.5,2.5]}
 },
 {
  "data":{"values":[{"t2":1089,"v2":0.875,"t":1043,"v":0.818},{"t2":1300,"v2":0.682,"t":1236,"v":0.582},{"t2":525,"v2":0.682,"t":557,"v":0.796},{"t2":519,"v2":0.482,"t":557,"v":0.411},{"t2":523,"v2":0.479,"t":555,"v":0.211},{"t2":902,"v2":0.404,"t":966,"v":0.275}]},
  "layer":[
   {"mark":{"type":"rule","color":"#000","strokeWidth":0.9},
    "encoding":{"x2":{"field":"t2"},"y2":{"field":"v2"}}},
   {"transform":[{"calculate":"atan2((datum.t-datum.t2)*0.47,(datum.v-datum.v2)*280)*180/PI","as":"ang"}],
    "mark":{"type":"point","shape":"M0,0L0.55,1.7L-0.55,1.7Z","size":100,"filled":true,"color":"#000","opacity":1,"strokeWidth":0},
    "encoding":{"angle":{"field":"ang","type":"quantitative","scale":null}}}
  ]
 },
 {
  "data":{"values":[
   {"t":332,"v":0.659,"txt":"The average throughput\nconstraints are satisfied after\n600 time slots"},
   {"t":672,"v":0.505,"txt":"Add three new Group II\nusers to the system"},
   {"t":1066,"v":0.98,"txt":"Change the throughput\nrequirement of Group I users to 0.5"},
   {"t":1260,"v":0.855,"txt":"The average throughput\nconstraints are satisfied\nagain after 200 time slots"}
  ]},
  "mark":{"type":"text","align":"left","baseline":"top","font":"Liberation Sans","fontSize":11.2,"lineHeight":16.5,"lineBreak":"\n","color":"#000"},
  "encoding":{"text":{"field":"txt"}}
 }
]
}
